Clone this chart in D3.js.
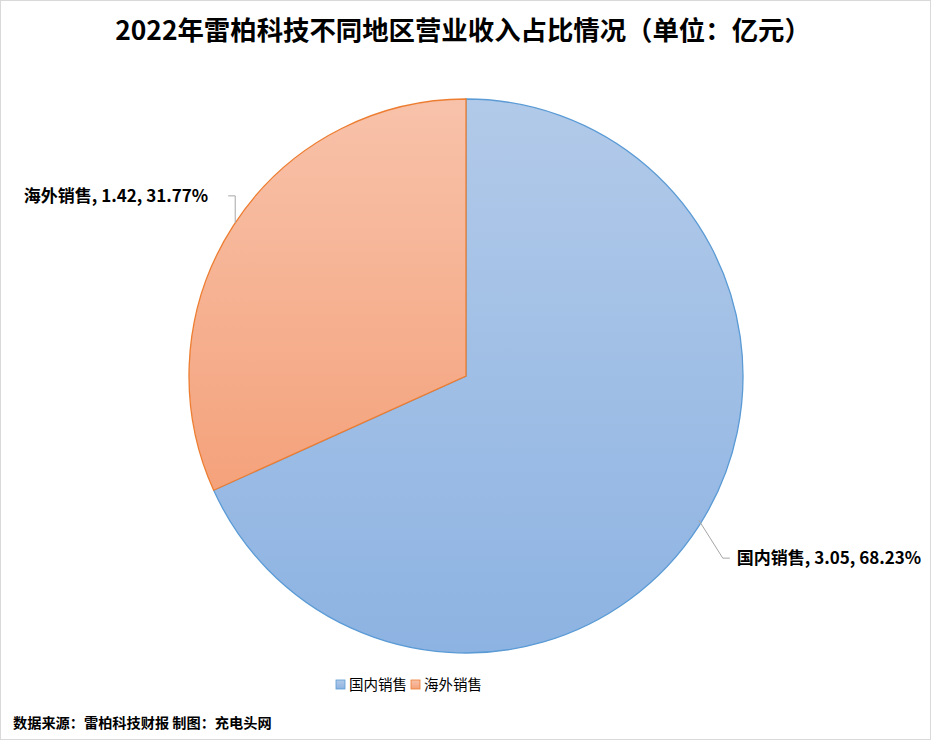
<!DOCTYPE html>
<html>
<head>
<meta charset="utf-8">
<script src="https://cdn.jsdelivr.net/npm/d3@7"></script>
<style>
  body { margin: 0; background: #fff; }
  svg text { font-family: "Noto Sans CJK SC", "Noto Sans", sans-serif; fill: #000; }
</style>
</head>
<body>
<svg id="chart" width="933" height="742"></svg>
<script>
// donnees du graphique
const categories = ["国内销售", "海外销售"];
const values = [3.05, 1.42];
const pctLabels = ["68.23%", "31.77%"];
const titre = "2022年雷柏科技不同地区营业收入占比情况（单位：亿元）";
const source = "数据来源：雷柏科技财报 制图：充电头网";

const W = 933, H = 742;
const cx = 466, cy = 376, R = 277;

const fillTop = ["#b2cae9", "#f8c2aa"];
const fillBot = ["#8db3e2", "#f4a27b"];
const strokes = ["#5b9bd5", "#ed7d31"];

const svg = d3.select("#chart");

// cadre
svg.append("rect").attr("x", 0.5).attr("y", 0.5).attr("width", W - 3).attr("height", H - 3)
  .attr("fill", "#fff").attr("stroke", "#d9d9d9").attr("stroke-width", 1);

// degrades
const defs = svg.append("defs");
categories.forEach((c, i) => {
  const g = defs.append("linearGradient").attr("id", "grad" + i)
    .attr("x1", 0).attr("y1", 0).attr("x2", 0).attr("y2", 1);
  g.append("stop").attr("offset", "0%").attr("stop-color", fillTop[i]);
  g.append("stop").attr("offset", "100%").attr("stop-color", fillBot[i]);
});

// titre
svg.append("text").attr("x", 463).attr("y", 40).attr("text-anchor", "middle")
  .attr("font-size", 26.4).attr("font-weight", "bold").text(titre);

// camembert
const pie = d3.pie().sort(null).value(d => d)(values);
const arc = d3.arc().innerRadius(0).outerRadius(R);
const g = svg.append("g").attr("transform", `translate(${cx},${cy})`);

g.selectAll("path").data(pie).join("path")
  .attr("d", arc)
  .attr("fill", (d, i) => `url(#grad${i})`)
  .attr("stroke", (d, i) => strokes[i])
  .attr("stroke-width", 1.3);

// etiquettes avec lignes de rappel
const labelArc = d3.arc().innerRadius(R).outerRadius(R);
pie.forEach((d, i) => {
  const p = labelArc.centroid(d);
  const px = cx + p[0], py = cy + p[1];
  const right = p[0] > 0;
  let pts, tx, ty;
  if (right) {
    const ey = py + 32;
    pts = [[px, py - 6], [px + 24, ey], [px + 31, ey]];
    tx = px + 38; ty = ey;
  } else {
    const ey = py - 30;
    pts = [[px + 2, py - 3], [px + 2, ey], [px - 5, ey]];
    tx = px - 25; ty = ey;
  }
  svg.append("polyline").attr("points", pts.map(q => q.join(",")).join(" "))
    .attr("fill", "none").attr("stroke", "#a6a6a6").attr("stroke-width", 1);
  svg.append("text").attr("x", tx).attr("y", ty + 6)
    .attr("text-anchor", right ? "start" : "end")
    .attr("font-size", 17).attr("font-weight", "bold")
    .text(`${categories[i]}, ${values[i].toFixed(2)}, ${pctLabels[i]}`);
});

// legende
const leg = svg.append("g").attr("transform", "translate(336,685)");
let lx = 0;
categories.forEach((c, i) => {
  leg.append("rect").attr("x", lx).attr("y", -5).attr("width", 9).attr("height", 9)
    .attr("fill", `url(#grad${i})`).attr("stroke", strokes[i]).attr("stroke-width", 0.8);
  const t = leg.append("text").attr("x", lx + 13).attr("y", 5).attr("font-size", 14.5).text(c);
  lx += 13 + t.node().getComputedTextLength() + 4;
});

// source
svg.append("text").attr("x", 13).attr("y", 728).attr("font-size", 14.2)
  .attr("font-weight", "bold").text(source);
</script>
</body>
</html>
